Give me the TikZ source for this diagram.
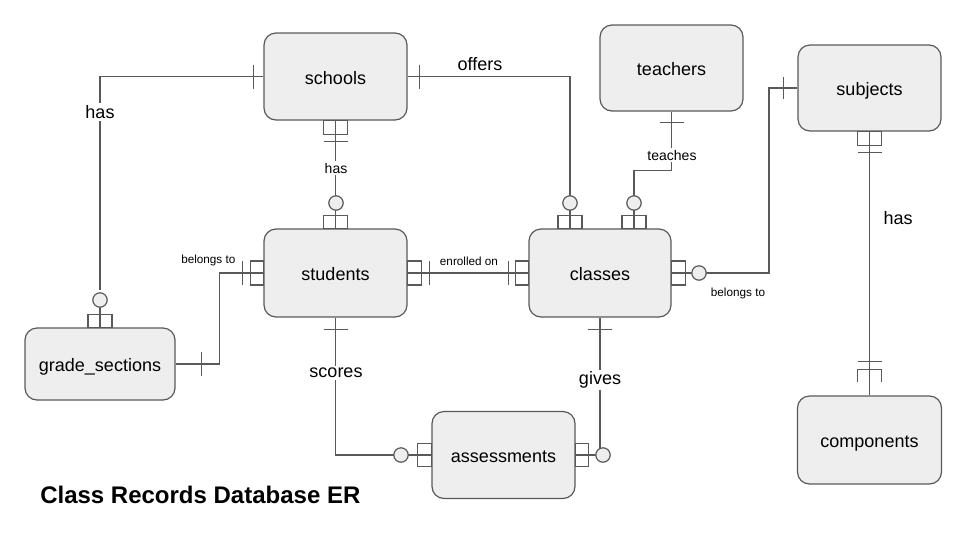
\documentclass[tikz,border=0pt]{standalone}
\usepackage{fontspec}
\setmainfont{Liberation Sans}
\usetikzlibrary{calc}
\definecolor{erfill}{HTML}{EEEEEE}
\definecolor{erstroke}{HTML}{595959}
\tikzset{
  entity/.style={draw=erstroke, fill=erfill, rounded corners=9pt, line width=0.9pt,
    minimum width=107.25pt, minimum height=65.25pt, inner sep=0pt,
    text height=12pt, text depth=0.2pt,
    font=\fontsize{13.5}{16}\selectfont},
  erline/.style={draw=erstroke, line width=0.9pt},
  ering/.style={circle, draw=erstroke, fill=erfill, line width=0.9pt, minimum size=10.8pt, inner sep=0pt},
  biglbl/.style={inner sep=1.5pt, font=\fontsize{13.5}{16}\selectfont},
  midlbl/.style={inner sep=1.5pt, font=\fontsize{10.5}{12}\selectfont},
  tinylbl/.style={inner sep=1pt, font=\fontsize{8.8}{10}\selectfont},
}
\begin{document}
\begin{tikzpicture}[x=0.75pt,y=0.75pt,yscale=-1,xscale=1]
\useasboundingbox (0,0) rectangle (960,540);
%Shape: Rounded Rect
\node[entity] (schools) at (335.5,76.5) {schools};
%Shape: Rounded Rect
\node[entity, minimum height=64.5pt] (teachers) at (671.5,68) {teachers};
%Shape: Rounded Rect
\node[entity, minimum height=64.5pt] (subjects) at (869.5,88) {subjects};
%Shape: Rounded Rect
\node[entity, minimum height=66pt] (students) at (335.5,273) {students};
%Shape: Rounded Rect
\node[entity, minimum width=106.5pt, minimum height=66pt] (classes) at (600,273) {classes};
%Shape: Rounded Rect
\node[entity, minimum width=112.5pt, minimum height=54pt] (grade) at (100,364) {grade\_sections};
%Shape: Rounded Rect
\node[entity] (assessments) at (503.5,455) {assessments};
%Shape: Rounded Rect
\node[entity, minimum width=108pt, minimum height=66pt] (components) at (869.5,440) {components};

% Connectors
\coordinate (c7) at (769,180);
\draw[erline] (schools.west) -| (100,290);
\draw[erline] (100,305) -- (grade.north);
\draw[erline] (schools.east) -| (570,200);
\draw[erline] (570,205) -- (570,229);
\draw[erline] (schools.south) -- (students.north);
\draw[erline] (students.west) -| ($(students.west)!0.5!(grade.east)$) |- (grade.east);
\draw[erline] (students.east) -- (classes.west);
\draw[erline] (teachers.south) -- ++(0,59) -| (634,229);
\draw[erline] (classes.east) -- (699,273);
\draw[erline] (699,273) -| (c7) |- (subjects.west);
\draw[erline] (subjects.south) -- (components.north);
\draw[erline] (students.south) |- (401,455) -- (assessments.west);
\draw[erline] (classes.south) -- (600,452);
\draw[erline] (assessments.east) -- (602,455);

% Ticks and boxes
\draw[erline] ($(schools.west)+(-10,-12)$) -- ++(0,24);
\draw[erline] ($(schools.east)+(12,-12)$) -- ++(0,24);
\draw[erline] ($(schools.south)+(-12,0)$) rectangle ++(24,14);
\draw[erline] ($(schools.south)+(-12,21)$) -- ++(24,0);
\draw[erline] ($(students.north)+(-12,-13)$) rectangle ++(24,13);
\draw[erline] ($(grade.north)+(-12,-13)$) rectangle ++(24,13);
\draw[erline] ($(classes.north)+(-42,-13)$) rectangle ++(24,13);
\draw[erline] ($(classes.north)+(22,-13)$) rectangle ++(24,13);
\draw[erline] ($(students.west)+(-13,-12)$) rectangle ++(13,24);
\draw[erline] ($(students.west)+(-21,-12)$) -- ++(0,24);
\draw[erline] ($(grade.east)+(26,-12)$) -- ++(0,24);
\draw[erline] ($(students.east)+(0,-12)$) rectangle ++(14,24);
\draw[erline] ($(students.east)+(22,-12)$) -- ++(0,24);
\draw[erline] ($(classes.west)+(-13,-12)$) rectangle ++(13,24);
\draw[erline] ($(classes.west)+(-20,-12)$) -- ++(0,24);
\draw[erline] ($(teachers.south)+(-12,11)$) -- ++(24,0);
\draw[erline] ($(classes.east)+(0,-12)$) rectangle ++(14,24);
\draw[erline] ($(subjects.west)+(-14,-11)$) -- ++(0,22);
\draw[erline] ($(subjects.south)+(-12,0)$) rectangle ++(24,14);
\draw[erline] ($(subjects.south)+(-12,21)$) -- ++(24,0);
\draw[erline] ($(components.north)+(-12,-34)$) -- ++(24,0);
\draw[erline] ($(components.north)+(-12,-13)$) -- ++(0,-13) -- ++(24,0) -- ++(0,13);
\draw[erline] ($(students.south)+(-12,12)$) -- ++(24,0);
\draw[erline] ($(classes.south)+(-12,12)$) -- ++(24,0);
\draw[erline] ($(assessments.west)+(-14,-11.5)$) rectangle ++(14,23);
\draw[erline] ($(assessments.east)+(0,-11.5)$) rectangle ++(13,23);

% Rings
\node[ering] (r1) at (100,300) {};
\node[ering] (r2) at (570,203) {};
\node[ering] (r3) at (336,203) {};
\node[ering] (r6) at (634,203) {};
\node[ering] (r7) at (699,273) {};
\node[ering] (r9) at (401,455) {};
\node[ering] (r10) at (603,455) {};

% Text Node
\node[biglbl, fill=white] (l1) at (100,112) {has};
% Text Node
\node[biglbl] (l2) at (480,64) {offers};
% Text Node
\node[midlbl, fill=white] (l3) at (336,168) {has};
% Text Node
\node[tinylbl, anchor=east] (l4) at (237,260) {belongs to};
% Text Node
\node[tinylbl] (l5) at (469,261) {enrolled on};
% Text Node
\node[midlbl, fill=white] (l6) at (672,155) {teaches};
% Text Node
\node[tinylbl] (l7) at (738,293) {belongs to};
% Text Node
\node[biglbl] (l8) at (898,218) {has};
% Text Node
\node[biglbl, fill=white] (l9) at (336,373) {scores};
% Text Node
\node[biglbl, fill=white] (l10) at (600,380) {gives};
% Text Node
\node[anchor=base west, inner sep=0pt, font=\fontsize{18}{22}\selectfont\bfseries] (title) at (40,503) {Class Records Database ER};
\end{tikzpicture}
\end{document}
